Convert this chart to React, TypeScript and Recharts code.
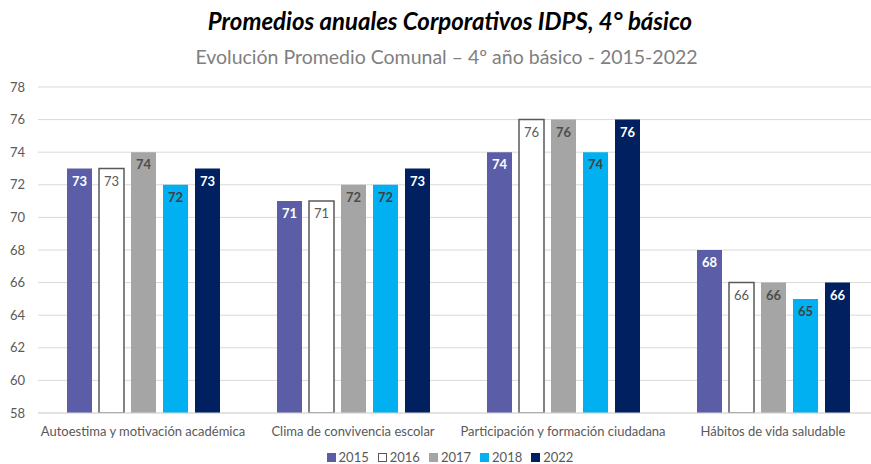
import { Bar, BarChart, CartesianGrid, LabelList, XAxis, YAxis } from 'recharts';

const categories = [
  'Autoestima y motivación académica',
  'Clima de convivencia escolar',
  'Participación y formación ciudadana',
  'Hábitos de vida saludable',
];
const y2015 = [73, 71, 74, 68];
const y2016 = [73, 71, 76, 66];
const y2017 = [74, 72, 76, 66];
const y2018 = [72, 72, 74, 65];
const y2022 = [73, 73, 76, 66];
const yTicks = [58, 60, 62, 64, 66, 68, 70, 72, 74, 76, 78];

const data = categories.map((name, i) => ({
  name,
  y2015: y2015[i],
  y2016: y2016[i],
  y2017: y2017[i],
  y2018: y2018[i],
  y2022: y2022[i],
}));

const FONT = 'Lato, "Open Sans", sans-serif';

const series = [
  { key: 'y2015', label: '2015', fill: '#5b5ea6', stroke: 'none', text: '#ffffff', weight: 700 },
  { key: 'y2016', label: '2016', fill: '#ffffff', stroke: '#595959', text: '#595959', weight: 400 },
  { key: 'y2017', label: '2017', fill: '#a5a5a5', stroke: 'none', text: '#4d4d4d', weight: 700 },
  { key: 'y2018', label: '2018', fill: '#00b0f0', stroke: 'none', text: '#404040', weight: 700 },
  { key: 'y2022', label: '2022', fill: '#002060', stroke: 'none', text: '#ffffff', weight: 700 },
];

export default function App() {
  return (
    <div
      style={{
        position: 'absolute',
        left: 0,
        top: 0,
        width: 871,
        height: 464,
        overflow: 'hidden',
        background: '#fff',
        fontFamily: FONT,
      }}
    >
      <div
        style={{
          position: 'absolute',
          top: 6,
          left: 0,
          width: 900,
          textAlign: 'center',
          fontSize: 24,
          fontWeight: 700,
          fontStyle: 'italic',
          color: '#000',
        }}
      >
        Promedios anuales Corporativos IDPS, 4° básico
      </div>
      <div
        style={{
          position: 'absolute',
          top: 45,
          left: 0,
          width: 893,
          textAlign: 'center',
          fontSize: 19.5,
          color: '#7f7f7f',
        }}
      >
        Evolución Promedio Comunal – 4º año básico - 2015-2022
      </div>
      <div style={{ position: 'absolute', left: 0, top: 0 }}>
        <BarChart
          width={880}
          height={464}
          data={data}
          margin={{ top: 87, right: 2, left: 0, bottom: 21 }}
          barSize={25}
          barGap={7}
        >
          <CartesianGrid vertical={false} stroke="#d9d9d9" />
          <XAxis
            dataKey="name"
            height={30}
            tickLine={false}
            axisLine={{ stroke: '#d9d9d9' }}
            tick={{ fill: '#595959', fontSize: 13, fontFamily: FONT }}
            tickMargin={8}
            interval={0}
          />
          <YAxis
            width={38}
            domain={[58, 78]}
            ticks={yTicks}
            allowDataOverflow
            tickLine={false}
            axisLine={false}
            tick={{ fill: '#595959', fontSize: 13, fontFamily: FONT }}
            tickMargin={7}
          />
          {series.map((s) => (
            <Bar
              key={s.key}
              dataKey={s.key}
              fill={s.fill}
              stroke={s.stroke}
              strokeWidth={1.5}
              isAnimationActive={false}
            >
              <LabelList
                dataKey={s.key}
                position="insideTop"
                offset={8}
                fill={s.text}
                fontSize={13}
                fontWeight={s.weight}
                fontFamily={FONT}
              />
            </Bar>
          ))}
        </BarChart>
      </div>
      <div
        style={{
          position: 'absolute',
          top: 449,
          left: 0,
          width: 900,
          display: 'flex',
          justifyContent: 'center',
          gap: 9,
          fontSize: 13,
          color: '#595959',
        }}
      >
        {series.map((s) => (
          <span key={s.key} style={{ display: 'flex', alignItems: 'center', gap: 3 }}>
            <span
              style={{
                width: 9,
                height: 9,
                boxSizing: 'border-box',
                background: s.fill,
                border: s.stroke === 'none' ? 'none' : `1px solid ${s.stroke}`,
                display: 'inline-block',
              }}
            />
            {s.label}
          </span>
        ))}
      </div>
    </div>
  );
}
